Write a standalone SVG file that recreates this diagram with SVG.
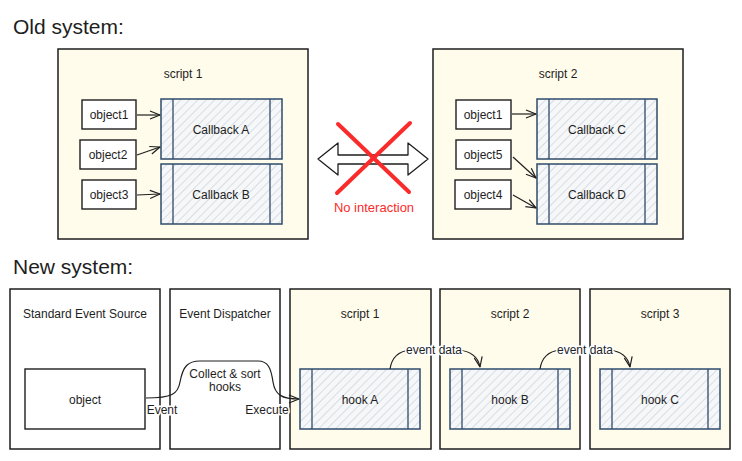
<svg xmlns="http://www.w3.org/2000/svg" width="742" height="461" viewBox="0 0 742 461">
<defs>
<pattern id="hatch" patternUnits="userSpaceOnUse" width="6" height="6" patternTransform="rotate(45)">
<rect width="6" height="6" fill="#f6f7f9"/>
<line x1="0" y1="0" x2="0" y2="6" stroke="#c4ccd5" stroke-width="1.2"/>
</pattern>
<marker id="ah" viewBox="0 0 12 10" refX="11" refY="5" markerWidth="12" markerHeight="10" markerUnits="userSpaceOnUse" orient="auto">
<path d="M1,1 L11,5 L1,9" fill="none" stroke="#1e1e1e" stroke-width="1.2" stroke-linejoin="round"/>
</marker>
<style>
.t{font-family:"Liberation Sans","DejaVu Sans",sans-serif;font-size:12px;fill:#1e1e1e;text-anchor:middle}
.h{font-family:"Liberation Sans","DejaVu Sans",sans-serif;font-size:21px;fill:#1e1e1e}
.script{fill:#fffcec;stroke:#1e1e1e;stroke-width:1.5}
.plain{fill:#ffffff;stroke:#1e1e1e;stroke-width:1.5}
.obj{fill:#ffffff;stroke:#1e1e1e;stroke-width:1.4}
.cb{fill:url(#hatch);stroke:#2f4b6b;stroke-width:1.5}
.cbl{stroke:#2f4b6b;stroke-width:1.3}
.con{fill:none;stroke:#1e1e1e;stroke-width:1.2;marker-end:url(#ah)}
.conb{fill:none;stroke:#1e1e1e;stroke-width:1.2}
.lbl{font-family:"Liberation Sans","DejaVu Sans",sans-serif;font-size:12px;fill:#1e1e1e;text-anchor:middle;paint-order:stroke;stroke:#ffffff;stroke-width:3px}
</style>
</defs>
<rect width="742" height="461" fill="#ffffff"/>

<text class="h" x="13" y="34">Old system:</text>
<text class="h" x="13" y="274">New system:</text>

<g id="old-script1">
<rect class="script" x="58" y="49" width="250" height="190"/>
<text class="t" x="183" y="78">script 1</text>
</g>
<g id="old-object1"><rect class="obj" x="82" y="100" width="54" height="29"/><text class="t" x="109" y="119">object1</text></g>
<g id="old-object2"><rect class="obj" x="80" y="140" width="56" height="29"/><text class="t" x="108" y="159">object2</text></g>
<g id="old-object3"><rect class="obj" x="82" y="180" width="54" height="29"/><text class="t" x="109" y="199">object3</text></g>
<g id="callbackA"><rect class="cb" x="161" y="99" width="121" height="60"/><line class="cbl" x1="173" y1="99" x2="173" y2="159"/><line class="cbl" x1="270" y1="99" x2="270" y2="159"/><text class="t" x="221" y="134">Callback A</text></g>
<g id="callbackB"><rect class="cb" x="161" y="164" width="121" height="60"/><line class="cbl" x1="173" y1="164" x2="173" y2="224"/><line class="cbl" x1="270" y1="164" x2="270" y2="224"/><text class="t" x="221" y="199">Callback B</text></g>

<g id="old-script2">
<rect class="script" x="433" y="49" width="250" height="190"/>
<text class="t" x="558" y="78">script 2</text>
</g>
<g id="old2-object1"><rect class="obj" x="456" y="100" width="55" height="29"/><text class="t" x="483" y="119">object1</text></g>
<g id="old-object5"><rect class="obj" x="456" y="140" width="55" height="29"/><text class="t" x="483" y="159">object5</text></g>
<g id="old-object4"><rect class="obj" x="455" y="180" width="56" height="29"/><text class="t" x="483" y="199">object4</text></g>
<g id="callbackC"><rect class="cb" x="537" y="99" width="120" height="60"/><line class="cbl" x1="549" y1="99" x2="549" y2="159"/><line class="cbl" x1="645" y1="99" x2="645" y2="159"/><text class="t" x="597" y="134">Callback C</text></g>
<g id="callbackD"><rect class="cb" x="537" y="164" width="120" height="60"/><line class="cbl" x1="549" y1="164" x2="549" y2="224"/><line class="cbl" x1="645" y1="164" x2="645" y2="224"/><text class="t" x="597" y="199">Callback D</text></g>

<g id="no-interaction">
<polygon points="318,159 338,143 338,155 408,155 408,143 428,159 408,175 408,164 338,164 338,175" fill="#ffffff" stroke="#1e1e1e" stroke-width="1.3" stroke-linejoin="round"/>
<line x1="338" y1="124" x2="409" y2="192" stroke="#fa2b2b" stroke-width="4" stroke-linecap="round"/>
<line x1="410" y1="123" x2="337" y2="193" stroke="#fa2b2b" stroke-width="4" stroke-linecap="round"/>
<text class="t" x="374" y="212" style="fill:#fa2b2b;font-size:13px">No interaction</text>
</g>

<g id="event-source">
<rect class="plain" x="10" y="289" width="150" height="160"/>
<text class="t" x="85" y="318">Standard Event Source</text>
</g>
<g id="object"><rect class="obj" x="25" y="369" width="120" height="60"/><text class="t" x="85" y="404">object</text></g>
<g id="dispatcher">
<rect class="plain" x="170" y="289" width="110" height="160"/>
<text class="t" x="225" y="318">Event Dispatcher</text>
</g>
<g id="new-script1">
<rect class="script" x="290" y="289" width="141" height="160"/>
<text class="t" x="360" y="318">script 1</text>
</g>
<g id="new-script2">
<rect class="script" x="440" y="289" width="140" height="160"/>
<text class="t" x="510" y="318">script 2</text>
</g>
<g id="new-script3">
<rect class="script" x="590" y="289" width="140" height="160"/>
<text class="t" x="660" y="318">script 3</text>
</g>
<g id="hookA"><rect class="cb" x="300" y="369" width="120" height="60"/><line class="cbl" x1="312" y1="369" x2="312" y2="429"/><line class="cbl" x1="408" y1="369" x2="408" y2="429"/><text class="t" x="360" y="404">hook A</text></g>
<g id="hookB"><rect class="cb" x="450" y="369" width="120" height="60"/><line class="cbl" x1="462" y1="369" x2="462" y2="429"/><line class="cbl" x1="558" y1="369" x2="558" y2="429"/><text class="t" x="510" y="404">hook B</text></g>
<g id="hookC"><rect class="cb" x="600" y="369" width="120" height="60"/><line class="cbl" x1="612" y1="369" x2="612" y2="429"/><line class="cbl" x1="708" y1="369" x2="708" y2="429"/><text class="t" x="660" y="404">hook C</text></g>

<g id="connectors">
<path class="con" d="M137,115 L160,115"/>
<path class="con" d="M137,155 L160,147"/>
<path class="con" d="M137,195 L160,194"/>
<path class="con" d="M512,114 L536,114"/>
<path class="con" d="M513,157 L536,178"/>
<path class="con" d="M513,195 L536,208"/>
<path class="con" d="M146,398 C172,398 178,394 180,382 C183,366 188,361 200,361 L258,361 C268,361 271,368 273,382 C275,395 282,399 299,399"/>
<path class="conb" d="M390,369 C392,356 400,351 410,350"/>
<path class="con" d="M458,350 C470,351 478,356 480,367"/>
<path class="conb" d="M540,369 C542,356 550,351 560,350"/>
<path class="con" d="M609,350 C620,351 628,356 630,367"/>
<text class="lbl" x="225" y="378">Collect &amp; sort</text>
<text class="lbl" x="225" y="391">hooks</text>
<text class="lbl" x="162" y="414">Event</text>
<text class="lbl" x="267" y="414">Execute</text>
<text class="lbl" x="434" y="354">event data</text>
<text class="lbl" x="585" y="354">event data</text>
</g>
</svg>
